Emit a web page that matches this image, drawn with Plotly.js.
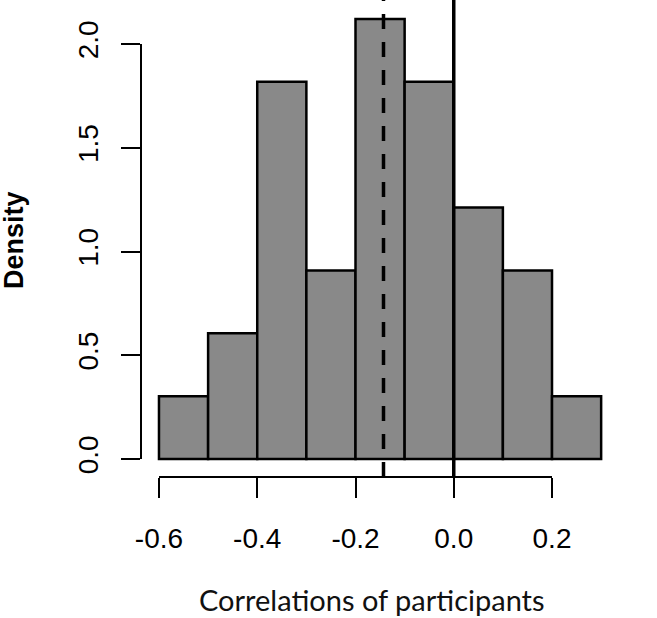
<!DOCTYPE html>
<html><head><meta charset="utf-8">
<script src="https://cdn.plot.ly/plotly-3.0.1.min.js"></script>
<style>html,body{margin:0;padding:0;background:#fff}</style>
</head><body><div id="chart" style="width:657px;height:618px"></div>
<script>
// ---- data ----
const binStarts = [-0.6, -0.5, -0.4, -0.3, -0.2, -0.1, 0.0, 0.1, 0.2];
const binWidth = 0.1;
const densities = [0.303, 0.606, 1.818, 0.909, 2.121, 1.818, 1.212, 0.909, 0.303];
const refLines = [-0.143, 0.0];            // dashed mean line, solid zero line
const refDash = ['15px,13px', 'solid'];
const xTicks = [-0.6, -0.4, -0.2, 0.0, 0.2];
const xTickText = ['-0.6', '-0.4', '-0.2', '0.0', '0.2'];
const yTicks = [0, 0.5, 1.0, 1.5, 2.0];
const yTickText = ['0.0', '0.5', '1.0', '1.5', '2.0'];
const xTitle = 'Correlations of participants';
const yTitle = 'Density';

// ---- geometry ----
const xMin = -0.6366, xMax = 0.4137;
const yMin = -0.0867, yMax = 2.212;
const xDom = [(xTicks[0] - xMin) / (xMax - xMin), (xTicks[xTicks.length - 1] - xMin) / (xMax - xMin)];
const yDom = [(yTicks[0] - yMin) / (yMax - yMin), (yTicks[yTicks.length - 1] - yMin) / (yMax - yMin)];

const tickFont = {family: 'Liberation Sans, Arial, sans-serif', size: 28, color: '#000'};

const bars = {
  type: 'bar',
  x: binStarts.map(b => b + binWidth / 2),
  y: densities,
  width: binStarts.map(() => binWidth),
  marker: {color: '#898989', line: {color: '#000', width: 2.5}},
  hoverinfo: 'skip',
  showlegend: false
};
const axisHolder = {type: 'scatter', x: [], y: [], xaxis: 'x2', yaxis: 'y2', showlegend: false, hoverinfo: 'skip'};

const shapes = refLines.map((v, i) => ({
  type: 'line', xref: 'x', yref: 'paper', x0: v, x1: v, y0: 0, y1: 1,
  line: {color: '#000', width: 3.5, dash: refDash[i]}, layer: 'above'
}));

const layout = {
  width: 657, height: 618,
  margin: {l: 141, r: 0, t: 0, b: 141, pad: 0},
  paper_bgcolor: '#fff', plot_bgcolor: 'rgba(0,0,0,0)',
  showlegend: false,
  bargap: 0,
  xaxis: {range: [xMin, xMax], visible: false, fixedrange: true},
  yaxis: {range: [yMin, yMax], visible: false, fixedrange: true},
  xaxis2: {
    domain: xDom, range: [xTicks[0], xTicks[xTicks.length - 1]],
    anchor: 'free', position: 0,
    showline: true, linewidth: 2, linecolor: '#000',
    ticks: 'outside', ticklen: 20, tickwidth: 2, tickcolor: '#000',
    tickmode: 'array', tickvals: xTicks, ticktext: xTickText,
    tickfont: tickFont, ticklabelstandoff: 16,
    showgrid: false, zeroline: false, fixedrange: true
  },
  yaxis2: {
    domain: yDom, range: [yTicks[0], yTicks[yTicks.length - 1]],
    anchor: 'free', position: 0,
    showline: true, linewidth: 2, linecolor: '#000',
    ticks: 'outside', ticklen: 19, tickwidth: 2, tickcolor: '#000',
    tickmode: 'array', tickvals: yTicks, ticktext: yTickText,
    tickangle: -90, tickfont: tickFont, ticklabelstandoff: 12,
    showgrid: false, zeroline: false, fixedrange: true
  },
  shapes: shapes,
  annotations: [
    {text: xTitle, xref: 'paper', yref: 'paper', x: (371.5 - 141) / 516, y: (477 - 599) / 477,
     xanchor: 'center', yanchor: 'middle', showarrow: false,
     font: {family: 'Lato, Carlito, sans-serif', size: 29, color: '#111'}},
    {text: '<b>' + yTitle + '</b>', xref: 'paper', yref: 'paper', x: (14 - 141) / 516, y: (477 - 240) / 477,
     xanchor: 'center', yanchor: 'middle', showarrow: false, textangle: -90,
     font: {family: 'Liberation Sans, Arial, sans-serif', size: 27, color: '#000'}}
  ]
};

Plotly.newPlot('chart', [bars, axisHolder], layout, {staticPlot: true, displayModeBar: false});
</script>
</body></html>
